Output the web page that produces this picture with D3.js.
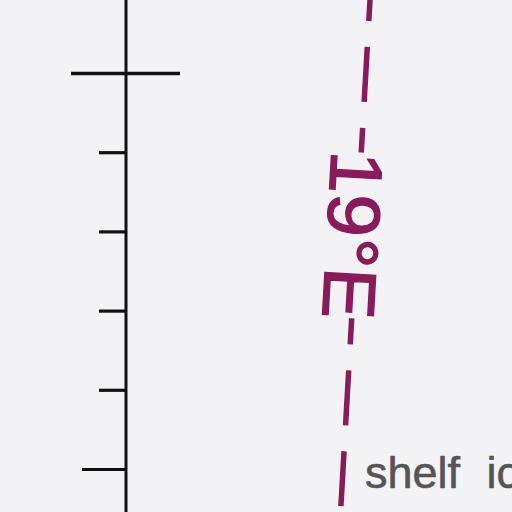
<!DOCTYPE html>
<html>
<head>
<meta charset="utf-8">
<script src="https://cdn.jsdelivr.net/npm/d3@7"></script>
<style>
  html, body { margin: 0; padding: 0; background: #f3f3f6; }
  svg { display: block; }
</style>
</head>
<body>
<script>
// ---- data ----
const majorLats = [-70];
const minorLats = [-70.2, -70.4, -70.6, -70.8];
const midLats = [-71];
const frameLats = [-69.7, -71.3];
const meridianLon = 19;
const meridianLats = [-69.73, -71.25];
const meridianLabel = "19°E";
const meridianLabelLat = -70.41;
const placeLabel = "shelf ice";

// ---- layout ----
const W = 512, H = 512;
const svg = d3.select("body").append("svg").attr("width", W).attr("height", H);
svg.append("rect").attr("width", W).attr("height", H).attr("fill", "#f3f3f6");

const yScale = d3.scaleLinear().domain([-70, -71]).range([73, 469]);
const xScale = d3.scaleLinear().domain([18, 19]).range([210, 370]);
const convergence = -0.0575;
function project(lon, lat) {
  const y = yScale(lat);
  return [xScale(lon) + convergence * y, y];
}

const frameX = 126;
const ink = "#111";

// frame (left axis line)
svg.append("line")
  .attr("x1", frameX).attr("x2", frameX)
  .attr("y1", yScale(frameLats[0])).attr("y2", yScale(frameLats[1]))
  .attr("stroke", ink).attr("stroke-width", 3);

function ticks(vals, size, width, side) {
  const ax = (side === "left" ? d3.axisLeft(yScale) : d3.axisRight(yScale))
    .tickValues(vals).tickSize(size).tickSizeOuter(0).tickFormat("");
  const g = svg.append("g").attr("transform", `translate(${frameX},0)`).call(ax);
  g.select(".domain").remove();
  g.selectAll(".tick line").attr("stroke", ink).attr("stroke-width", width);
}
ticks(minorLats, 27, 3.2, "left");
ticks(midLats, 44, 3.2, "left");
ticks(majorLats, 55, 3.6, "left");
ticks(majorLats, 54, 3.6, "right");

// meridian
const p0 = project(meridianLon, meridianLats[0]);
const p1 = project(meridianLon, meridianLats[1]);
const angle = Math.atan2(p1[1] - p0[1], p1[0] - p0[0]) * 180 / Math.PI;
const lc = project(meridianLon, meridianLabelLat);
const labelLen = 168;
const gapLen = 166;
const lineColor = "#8a1a5a";

const defs = svg.append("defs");
const mask = defs.append("mask").attr("id", "labelGap").attr("maskUnits", "userSpaceOnUse")
  .attr("x", 0).attr("y", 0).attr("width", W).attr("height", H);
mask.append("rect").attr("width", W).attr("height", H).attr("fill", "white");
mask.append("rect")
  .attr("transform", `translate(${lc[0]},${lc[1]}) rotate(${angle})`)
  .attr("x", -gapLen / 2).attr("y", -40).attr("width", gapLen).attr("height", 80)
  .attr("fill", "black");

const lineGen = d3.line();
svg.append("path")
  .attr("d", lineGen([p0, p1]))
  .attr("fill", "none")
  .attr("stroke", lineColor)
  .attr("stroke-width", 5.5)
  .attr("stroke-dasharray", "55,26")
  .attr("mask", "url(#labelGap)");

svg.append("text")
  .attr("transform", `translate(${lc[0]},${lc[1]}) rotate(${angle})`)
  .attr("text-anchor", "middle")
  .attr("dy", 29.5)
  .attr("font-family", "'Liberation Sans', Arial, sans-serif")
  .attr("font-size", 74)
  .attr("textLength", labelLen)
  .attr("lengthAdjust", "spacingAndGlyphs")
  .attr("fill", lineColor)
  .attr("stroke", lineColor)
  .attr("stroke-width", 1.4)
  .text(meridianLabel);

// place label
svg.append("text")
  .attr("x", 365).attr("y", 488)
  .attr("font-family", "'Liberation Sans', Arial, sans-serif")
  .attr("font-size", 45)
  .attr("word-spacing", 14)
  .attr("fill", "#555")
  .attr("stroke", "#555")
  .attr("stroke-width", 0.6)
  .text(placeLabel);
</script>
</body>
</html>
